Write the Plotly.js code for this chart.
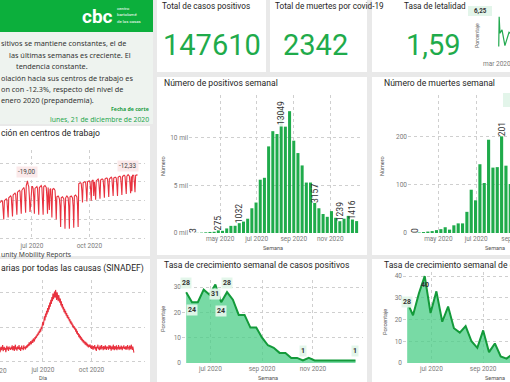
<!DOCTYPE html>
<html><head><meta charset="utf-8">
<script src="https://cdn.plot.ly/plotly-3.0.1.min.js"></script>
<style>
html,body{margin:0;padding:0;overflow:hidden;width:510px;height:382px;background:#e9e9e9}
#wrap{width:510px;height:382px;overflow:hidden;position:relative}
#chart{position:absolute;left:0;top:0;width:560px;height:382px}
</style></head>
<body><div id="wrap"><div id="chart"></div></div>
<script>
// ---------------- DATA ----------------
const posWeeks = ['2020-03-17','2020-03-24','2020-03-31','2020-04-07','2020-04-14','2020-04-21','2020-04-28','2020-05-05','2020-05-12','2020-05-19','2020-05-26','2020-06-02','2020-06-09','2020-06-16','2020-06-23','2020-06-30','2020-07-07','2020-07-14','2020-07-21','2020-07-28','2020-08-04','2020-08-11','2020-08-18','2020-08-25','2020-09-01','2020-09-08','2020-09-15','2020-09-22','2020-09-29','2020-10-06','2020-10-13','2020-10-20','2020-10-27','2020-11-03','2020-11-10','2020-11-17','2020-11-24','2020-12-01','2020-12-08','2020-12-15'];
const positives = [3,15,40,70,110,130,275,230,480,750,760,1032,1200,1500,2600,3200,5600,5800,9100,10700,10400,13049,11200,12800,9700,8400,7100,5300,5300,3157,2600,2000,1700,2300,1600,1239,1500,1800,1416,1250];
const posLabels = ['3','','','','','','275','','','','','1032','','','','','','','','','','','','','','','','','','3157','','','','','','1239','','','1416',''];
const posPeakLabel = '13049';

const deathWeeks = ['2020-03-24','2020-03-31','2020-04-07','2020-04-14','2020-04-21','2020-04-28','2020-05-05','2020-05-12','2020-05-19','2020-05-26','2020-06-02','2020-06-09','2020-06-16','2020-06-23','2020-06-30','2020-07-07','2020-07-14','2020-07-21','2020-07-28','2020-08-04','2020-08-11','2020-08-18','2020-08-25','2020-09-01','2020-09-08'];
const deaths = [0,1,2,3,4,6,8,12,7,16,20,20,44,90,68,143,104,194,136,137,201,140,102,130,110];
const deathLabels = ['0','','','','','','','','','','','','','','','','','','','','201','','','',''];

const growthWeeks = ['2020-06-02','2020-06-09','2020-06-16','2020-06-23','2020-06-30','2020-07-07','2020-07-14','2020-07-21','2020-07-28','2020-08-04','2020-08-11','2020-08-18','2020-08-25','2020-09-01','2020-09-08','2020-09-15','2020-09-22','2020-09-29','2020-10-06','2020-10-13','2020-10-20','2020-10-27','2020-11-03','2020-11-10','2020-11-17','2020-11-24','2020-12-01','2020-12-08','2020-12-15','2020-12-22'];
const growthPos = [28,24,24,29,27,31,24,28,25,19,19,14,14,10,7,6,4,4,2,2,1,2,1,1,1,1,1,1,1,1];
const growthDeaths = [28,22,32,40,23,33,19,26,16,14,17,10,7,15,5,9,3,2,4,3,2,2,1,1,1,1,1,1,1,1];

const letDates = ['2020-03-05','2020-03-06','2020-03-08','2020-03-13','2020-03-20','2020-03-25','2020-03-30','2020-04-05','2020-04-12'];
const letalidad = [0,6.25,2.8,3.5,0.2,1.8,3.0,2.6,2.9];

const mobStart = '2020-05-11';
const mobility = [
 -42,-41,-41,-40,-41,-47,-60, -40,-39,-39,-38,-39,-45,-58, -37,-36,-36,-35,-36,-43,-57,
 -34,-33,-32,-32,-33,-40,-55, -31,-30,-29,-29,-30,-38,-54, -29,-28,-27,-26,-28,-37,-53,
 -24,-22,-19,-23,-25,-36,-52, -45,-26,-25,-25,-27,-36,-54, -27,-26,-25,-25,-27,-37,-55,
 -26,-25,-25,-24,-26,-36,-55, -25,-24,-24,-25,-26,-36,-54, -26,-45,-50,-28,-27,-38,-58,
 -28,-27,-27,-28,-29,-40,-60, -36,-35,-35,-36,-38,-46,-68, -37,-36,-36,-37,-38,-47,-70,
 -37,-36,-35,-36,-37,-46,-70, -36,-35,-35,-36,-37,-46,-69, -35,-34,-34,-35,-36,-45,-68,
 -22,-21,-21,-21,-22,-30,-42, -21,-20,-20,-20,-21,-29,-41, -20,-19,-19,-19,-20,-28,-40,
 -19,-18,-18,-35,-20,-27,-39, -19,-18,-17,-17,-19,-26,-38, -18,-17,-17,-17,-18,-26,-37,
 -17,-16,-16,-16,-17,-25,-36, -17,-16,-15,-15,-16,-24,-35, -16,-15,-15,-15,-16,-24,-35,
 -15,-14,-14,-14,-15,-23,-34, -14,-14,-13,-13,-14,-22,-33, -14,-13,-12.33,-13,-14,-22,-32,
 -14,-30,-13,-13,-13,-21,-31, -13,-12.5,-12.6,-12.8];

const sinStart = '2020-04-07';
const sinadef = [
 330,355,340,365,320,345,360,335,350,372,328,345,360,338,352,320,348,366,340,356,330,362,345,350,
 338,360,342,370,335,352,365,330,348,375,340,356,332,362,350,345,372,338,355,330,360,368,344,352,336,370,348,358,340,365,350,
 372,355,380,365,392,370,385,400,378,395,410,388,420,405,398,430,415,440,425,450,438,462,448,475,460,490,470,505,488,520,
 540,515,560,580,550,600,575,620,595,640,610,660,630,680,650,700,670,720,690,745,705,730,760,715,772,740,700,755,720,690,735,
 700,680,710,660,690,645,670,630,650,610,635,600,620,585,605,570,590,560,575,545,560,530,548,520,535,505,520,495,510,485,500,
 470,490,455,475,445,460,430,450,420,440,410,428,400,418,392,408,385,400,375,395,370,388,362,380,355,372,360,378,350,368,
 345,370,352,338,365,348,372,340,358,330,362,350,375,342,356,335,368,352,340,372,348,360,335,365,350,342,370,355,338,362,348,
 360,338,372,350,345,368,332,355,362,340,375,348,336,365,352,342,370,335,358,346,372,338,360,350,342,368,355,336,362,348,
 370,345,358,340,365,352,338,372,348,360,335,368,350,342,375,356,338,362,330,318];

const kpiLabels = ['Total de casos positivos','Total de muertes por covid-19','Tasa de letalidad'];
const kpiValues = ['147610','2342','1,59'];

const monthTicks2 = ['2020-05-01','2020-07-01','2020-09-01','2020-11-01'];
const monthText2 = ['may 2020','jul 2020','sep 2020','nov 2020'];

// ---------------- LAYOUT HELPERS ----------------
const W=560,H=382;
const fx=x=>x/W, fy=y=>1-y/H;
function days(start,n){const out=[];const d=new Date(start+'T12:00:00Z');for(let i=0;i<n;i++){const e=new Date(d.getTime()+i*86400000);out.push(e.toISOString().slice(0,10));}return out;}
const RED='#e8323f', GREEN='#1fab4b', DKGREEN='#139a3a';
const TICKF={family:'Roboto, sans-serif',size:6.5,color:'#7a7a7a'};
function xa(n,x0,x1,range,tv,tt){return {anchor:'y'+n,domain:[fx(x0),fx(x1)],range:range,type:'date',tickvals:tv,ticktext:tt,showgrid:true,gridcolor:'#cfcfcf',griddash:'dot',gridwidth:1,zeroline:false,showline:false,ticks:'',tickfont:TICKF,fixedrange:true};}
function ya(n,y0,y1,range,tv,tt,show){return {anchor:'x'+n,domain:[fy(y0),fy(y1)],range:range,tickvals:tv,ticktext:tt,showticklabels:show,showgrid:true,gridcolor:'#cfcfcf',griddash:'dot',gridwidth:1,zeroline:false,showline:false,ticks:'',tickfont:TICKF,fixedrange:true};}

const data=[
 {type:'scatter',mode:'lines',x:days(mobStart,mobility.length),y:mobility,xaxis:'x',yaxis:'y',line:{color:RED,width:1.1},hoverinfo:'skip'},
 {type:'scatter',mode:'lines',x:days(sinStart,sinadef.length),y:sinadef,xaxis:'x2',yaxis:'y2',line:{color:RED,width:1.1},hoverinfo:'skip'},
 {type:'bar',x:posWeeks,y:positives,xaxis:'x3',yaxis:'y3',marker:{color:GREEN},text:posLabels,textposition:'outside',textangle:-90,constraintext:'none',textfont:{family:'Roboto, sans-serif',size:8.5,color:'#333'},hoverinfo:'skip'},
 {type:'bar',x:deathWeeks,y:deaths,xaxis:'x4',yaxis:'y4',marker:{color:GREEN},text:deathLabels,textposition:'outside',textangle:-90,constraintext:'none',textfont:{family:'Roboto, sans-serif',size:8.5,color:'#333'},hoverinfo:'skip'},
 {type:'scatter',mode:'lines',x:growthWeeks,y:growthPos,xaxis:'x5',yaxis:'y5',fill:'tozeroy',fillcolor:'rgba(75,205,135,0.75)',line:{color:DKGREEN,width:2},hoverinfo:'skip'},
 {type:'scatter',mode:'lines',x:growthWeeks,y:growthDeaths,xaxis:'x6',yaxis:'y6',fill:'tozeroy',fillcolor:'rgba(75,205,135,0.75)',line:{color:DKGREEN,width:2},hoverinfo:'skip'},
 {type:'scatter',mode:'lines',x:letDates,y:letalidad,xaxis:'x7',yaxis:'y7',line:{color:'#22a94f',width:1.2},hoverinfo:'skip'}
];

// panels
const panels=[[0,0,153,32,'#0caf3c'],[0,32,153,124,'#eef3ef'],[0,126,150,256,'#ffffff'],[0,259,150,382,'#ffffff'],
 [157,0,266,72,'#ffffff'],[270,0,367,72,'#ffffff'],[372,0,560,72,'#ffffff'],
 [157,77,367,255,'#ffffff'],[372,77,560,255,'#ffffff'],[157,259,367,382,'#ffffff'],[372,259,560,382,'#ffffff'],
 [503,93,515,107,'#e3f5ea'],[468,6,492,16,'#e3f5ea']];
const shapes=panels.map(p=>({type:'rect',xref:'paper',yref:'paper',x0:fx(p[0]),x1:fx(p[2]),y0:fy(p[3]),y1:fy(p[1]),fillcolor:p[4],line:{width:0},layer:'below'}));

function A(text,x,y,o){return Object.assign({text:text,x:fx(x),y:fy(y),xref:'paper',yref:'paper',showarrow:false,xanchor:'left',yanchor:'middle',font:{family:'Roboto, sans-serif',size:9,color:'#252423'}},o||{});}
const TXT={family:'Noto Sans, sans-serif',size:7.3,color:'#333'};
const TT={family:'Roboto, sans-serif',size:8.6,color:'#252423'};
const SM={family:'Roboto, sans-serif',size:5.5,color:'#555'};
const ann=[
 // header / logo
 A('<b>cbc</b>',80,16,{font:{family:'Roboto, sans-serif',size:19,color:'#fff'}}),
 A('centro',115,9,{font:{family:'Roboto',size:4.3,color:'#fff'}}),
 A('bartolomé',115,15,{font:{family:'Roboto',size:4.3,color:'#fff'}}),
 A('de las casas',115,21,{font:{family:'Roboto',size:4.3,color:'#fff'}}),
 // text box
 A('sitivos se mantiene constantes, el de',-1,43,{font:TXT}),
 A('las últimas semanas es creciente. El',7,55,{font:TXT}),
 A('tendencia constante.',14,66,{font:TXT}),
 A('olación hacia sus centros de trabajo es',-1,78,{font:TXT}),
 A('on con -12.3%, respecto del nivel de',-1,89,{font:TXT}),
 A('enero 2020 (prepandemia).',-1,100,{font:TXT}),
 A('<b>Fecha de corte</b>',151,109,{xanchor:'right',font:{family:'Noto Sans',size:5.2,color:'#1a9c3e'}}),
 A('lunes, 21 de diciembre de 2020',151,119,{xanchor:'right',font:{family:'Noto Sans',size:6.8,color:'#1fa54d'}}),
 // KPI cards
 A(kpiLabels[0],160,6,{font:{family:'Roboto',size:8.2,color:'#252423'}}),
 A(kpiLabels[1],273,6,{font:{family:'Roboto',size:8.2,color:'#252423'}}),
 A(kpiLabels[2],402,6,{font:{family:'Roboto',size:8.2,color:'#252423'}}),
 A(kpiValues[0],212,45,{xanchor:'center',font:{family:'Roboto',size:29,color:'#1fab4b'}}),
 A(kpiValues[1],315,45,{xanchor:'center',font:{family:'Roboto',size:29,color:'#1fab4b'}}),
 A(kpiValues[2],433,45,{xanchor:'center',font:{family:'Roboto',size:29,color:'#1fab4b'}}),
 A('<b>6,25</b>',480,11,{xanchor:'center',font:{family:'Roboto',size:6.3,color:'#333'}}),
 A('Porcentaje',477,36,{xanchor:'center',textangle:-90,font:{family:'Roboto',size:5.2,color:'#666'}}),
 A('mar 2020',497,64,{xanchor:'center',font:TICKF}),
 // mobility
 A('ción en centros de trabajo',-1,133,{font:TT}),
 A('-19,00',27,172,{xanchor:'center',bgcolor:'#fbe9ea',font:{family:'Roboto',size:6.3,color:'#444'}}),
 A('-12,33',128,166,{xanchor:'center',bgcolor:'#fbe9ea',font:{family:'Roboto',size:6.3,color:'#444'}}),
 A('unity Mobility Reports',-1,254,{font:{family:'Noto Sans',size:6.8,color:'#444'}}),
 // sinadef
 A('arias por todas las causas (SINADEF)',-1,268,{font:TT}),
 A('abr 2020',-6,371,{xanchor:'center',font:TICKF}),
 A('Día',43,378,{xanchor:'center',font:SM}),
 // positives bar
 A('Número de positivos semanal',162,83,{font:TT}),
 A('Número',163,166,{xanchor:'center',textangle:-90,font:SM}),
 A('Semana',273,248,{xanchor:'center',font:SM}),
 // deaths bar
 A('Número de muertes semanal',382,83,{font:TT}),
 A('Número',382,166,{xanchor:'center',textangle:-90,font:SM}),
 A('Semana',495,248,{xanchor:'center',font:SM}),
 // growth pos
 A('Tasa de crecimiento semanal de casos positivos',162,265,{font:TT}),
 A('Porcentaje',163,319,{xanchor:'center',textangle:-90,font:SM}),
 A('Semana',268,378,{xanchor:'center',font:SM}),
 // growth deaths
 A('Tasa de crecimiento semanal de defunciones',382,265,{font:TT}),
 A('Porcentaje',385,322,{xanchor:'center',textangle:-90,font:SM}),
 A('Semana',495,378,{xanchor:'center',font:SM}),
 // peak label of positives (inside end with background)
 {xref:'x3',yref:'y3',x:posWeeks[21],y:positives[21],text:posPeakLabel,showarrow:false,textangle:-90,yanchor:'middle',yshift:-4,bgcolor:'rgba(255,255,255,0.85)',font:{family:'Roboto',size:8.5,color:'#333'}}
];
// data labels on growth charts
function L(xr,yr,i,arr,shift,bg){return {xref:xr,yref:yr,x:growthWeeks[i],y:arr[i],text:'<b>'+arr[i]+'</b>',showarrow:false,yshift:shift,bgcolor:bg||'rgba(226,245,233,0.95)',font:{family:'Roboto',size:7,color:'#333'}};}
ann.push(L('x5','y5',0,growthPos,9),L('x5','y5',1,growthPos,-8),L('x5','y5',5,growthPos,-9),L('x5','y5',6,growthPos,-9),L('x5','y5',7,growthPos,9),L('x5','y5',20,growthPos,9),L('x5','y5',29,growthPos,9));
ann.push(L('x6','y6',0,growthDeaths,0),L('x6','y6',3,growthDeaths,-9,'rgba(0,0,0,0)'));

const layout={width:W,height:H,margin:{l:0,r:0,t:0,b:0},paper_bgcolor:'#e9e9e9',plot_bgcolor:'rgba(0,0,0,0)',showlegend:false,bargap:0.28,
 shapes:shapes,annotations:ann,
 xaxis:xa('',0,145,['2020-05-11','2020-12-29'],['2020-07-01','2020-10-01'],['jul 2020','oct 2020']),
 yaxis:ya('',240,150,[-82,14],[0,-20,-40,-60,-80],null,false),
 xaxis2:xa(2,0,145,['2020-04-11','2021-01-10'],['2020-07-01','2020-10-01'],['jul 2020','oct 2020']),
 yaxis2:ya(2,364,280,[235,844],[250,500,750],null,false),
 xaxis3:xa(3,189,362,['2020-03-10','2020-12-24'],monthTicks2,monthText2),
 yaxis3:ya(3,233,95,[0,14500],[0,5000,10000],['0 mil','5 mil','10 mil'],true),
 xaxis4:xa(4,408,545,['2020-03-13','2020-10-20'],monthTicks2,monthText2),
 yaxis4:ya(4,233,95,[0,287],[0,100,200],['0','100','200'],true),
 xaxis5:xa(5,182,363,['2020-05-28','2020-12-31'],['2020-07-01','2020-09-01','2020-11-01'],['jul 2020','sep 2020','nov 2020']),
 yaxis5:ya(5,363,280,[0,32.8],[0,10,20,30],['0','10','20','30'],true),
 xaxis6:xa(6,403,560,['2020-05-28','2020-12-02'],['2020-07-01','2020-09-01','2020-11-01'],['jul 2020','sep 2020','nov 2020']),
 yaxis6:ya(6,363,272,[0,41.9],[0,10,20,30,40],['0','10','20','30','40'],true),
 xaxis7:Object.assign(xa(7,486,560,['2020-02-03','2020-08-01'],[],[]),{showgrid:false,showticklabels:false}),
 yaxis7:Object.assign(ya(7,48,15,[-0.3,6.6],[],[],false),{showgrid:false})
};
layout.xaxis.anchor='y'; layout.yaxis.anchor='x';
Plotly.newPlot('chart',data,layout,{staticPlot:true,displayModeBar:false});
</script></body></html>
